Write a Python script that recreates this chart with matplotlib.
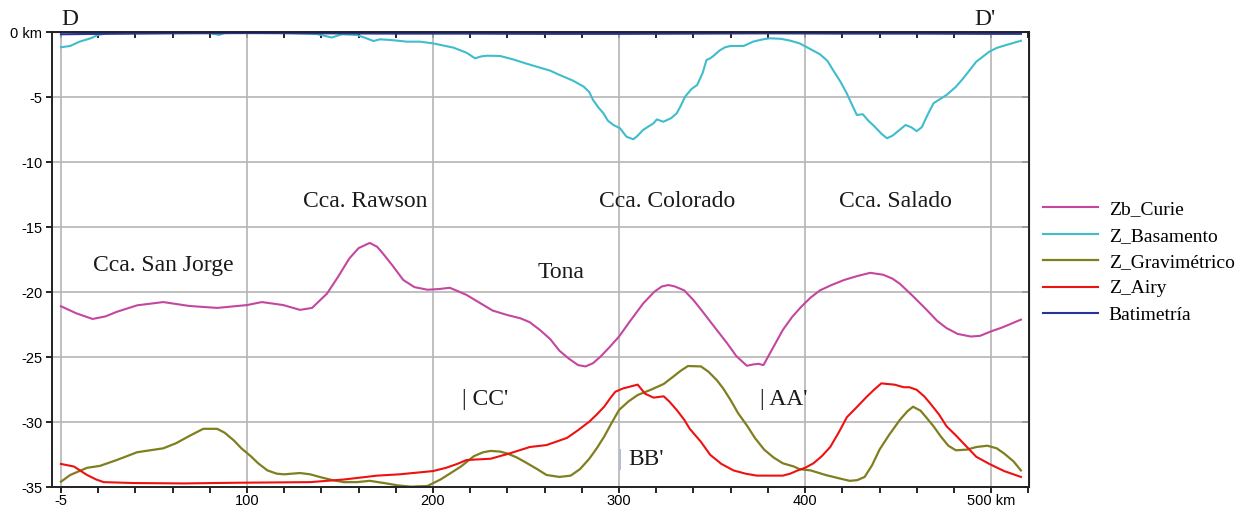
import matplotlib
matplotlib.use("Agg")
import matplotlib.pyplot as plt
from matplotlib.ticker import MultipleLocator, FixedLocator

# distance along profile (km) and depth (km) for each model
curie_km = [0, 8, 17, 24, 30, 41, 55, 69, 84, 100, 108, 119.5, 128.5, 135, 143, 149,
            155, 160, 166, 170, 173, 178, 184, 190, 197, 203, 209, 214, 218, 225, 232,
            240, 247, 252, 257.5, 263, 268, 273, 278, 282, 286, 290, 295, 300, 306, 313,
            319, 323, 326.5, 330, 335, 340, 345, 352, 358, 363, 368.7, 372, 375, 377.6,
            383, 388, 393, 398, 403, 408, 414, 421, 428, 435, 442, 447, 451, 458, 465,
            471, 476, 482, 489, 494, 500, 506, 511, 516]
curie_z = [-21.07, -21.6, -22.05, -21.85, -21.5, -21.0, -20.75, -21.05, -21.2, -20.98,
           -20.75, -20.98, -21.35, -21.2, -20.1, -18.8, -17.4, -16.6, -16.2, -16.5, -17.0,
           -17.9, -19.05, -19.6, -19.8, -19.75, -19.65, -19.95, -20.2, -20.8, -21.4,
           -21.75, -22.0, -22.3, -22.9, -23.6, -24.5, -25.1, -25.6, -25.7, -25.45, -24.95,
           -24.2, -23.4, -22.2, -20.85, -19.95, -19.55, -19.44, -19.55, -19.85, -20.6,
           -21.5, -22.8, -23.9, -24.9, -25.65, -25.55, -25.5, -25.6, -24.2, -22.9, -21.9,
           -21.1, -20.4, -19.85, -19.45, -19.05, -18.75, -18.5, -18.65, -18.95, -19.35,
           -20.3, -21.3, -22.2, -22.75, -23.2, -23.4, -23.35, -23.0, -22.7, -22.4, -22.1]

basam_km = [0, 5, 10, 16, 20, 25, 40, 60, 80, 85, 88, 120, 137.5, 141, 145.6, 151, 159,
            164, 168, 171.5, 178, 186, 193, 200, 211, 218, 222.6, 226, 229, 236, 243, 250,
            257.5, 263, 268, 275, 281, 284, 286, 289, 291.6, 294, 297, 300.5, 304, 307.7,
            310, 313, 318.5, 320.3, 323.8, 328, 331, 333, 335.5, 339, 342, 345, 347, 349,
            350.7, 354, 357, 360, 367, 372, 377, 381, 387, 392, 397, 401, 408, 412, 415,
            419, 422.4, 425, 427.8, 431, 434, 437, 441, 444, 447, 449, 454, 457, 460,
            462.7, 466, 469, 476, 481, 485, 492, 499, 503, 508, 516]
basam_z = [-1.15, -1.05, -0.72, -0.46, -0.2, -0.08, -0.05, -0.05, -0.05, -0.2, -0.05,
           -0.05, -0.13, -0.25, -0.4, -0.15, -0.2, -0.45, -0.67, -0.54, -0.6, -0.72, -0.72,
           -0.85, -1.18, -1.57, -2.0, -1.85, -1.8, -1.82, -2.08, -2.4, -2.72, -2.95, -3.28,
           -3.7, -4.18, -4.6, -5.2, -5.8, -6.23, -6.8, -7.13, -7.38, -8.03, -8.23, -7.95,
           -7.5, -7.0, -6.7, -6.88, -6.6, -6.23, -5.7, -4.95, -4.35, -4.05, -3.1, -2.13,
           -2.0, -1.82, -1.4, -1.15, -1.05, -1.05, -0.72, -0.55, -0.46, -0.5, -0.64, -0.85,
           -1.15, -1.69, -2.2, -2.9, -3.8, -4.7, -5.5, -6.36, -6.3, -6.8, -7.2, -7.8,
           -8.15, -7.95, -7.72, -7.13, -7.3, -7.6, -7.3, -6.3, -5.46, -4.82, -4.2, -3.54,
           -2.26, -1.49, -1.2, -0.98, -0.65]

grav_km = [0, 5, 14, 21, 30, 41, 55, 62, 69, 76.5, 84, 88, 93, 97, 102, 106, 111, 116,
           120, 128.5, 134, 139, 146, 152, 159, 166, 175, 181, 188, 197, 204, 209, 215,
           222, 227, 231, 236, 240, 245, 250, 256, 261, 268, 274, 279, 284, 288, 292, 296,
           300, 305, 310, 317, 324, 329, 333, 337, 344, 348, 352.5, 356, 360, 364, 369,
           373, 378, 383, 388, 394, 397, 403, 411, 418, 424, 428, 432, 436, 440, 445, 451,
           455, 458, 462, 465, 469, 473, 477, 481, 487, 492, 498, 503, 507, 512, 516]
grav_z = [-34.57, -34.05, -33.5, -33.35, -32.9, -32.3, -32.0, -31.6, -31.05, -30.5, -30.5,
          -30.8, -31.4, -32.0, -32.6, -33.15, -33.7, -33.95, -34.0, -33.9, -34.0, -34.2,
          -34.45, -34.6, -34.6, -34.5, -34.7, -34.85, -34.95, -34.9, -34.4, -33.95, -33.4,
          -32.6, -32.3, -32.2, -32.25, -32.4, -32.7, -33.1, -33.6, -34.05, -34.2, -34.1,
          -33.6, -32.8, -32.0, -31.1, -30.05, -29.05, -28.4, -27.9, -27.5, -27.05, -26.5,
          -26.05, -25.67, -25.7, -26.1, -26.75, -27.4, -28.3, -29.3, -30.3, -31.2, -32.1,
          -32.7, -33.15, -33.4, -33.6, -33.7, -34.05, -34.3, -34.5, -34.45, -34.2, -33.3,
          -32.1, -31.0, -29.8, -29.15, -28.8, -29.1, -29.6, -30.3, -31.1, -31.8, -32.15,
          -32.1, -31.9, -31.8, -32.0, -32.4, -33.0, -33.7]

airy_km = [0, 7, 14, 19, 23, 39, 66, 93, 134, 152, 170, 182, 200, 207, 213, 218, 231,
           241, 252, 261, 268, 272, 278, 284, 288, 292, 296, 298, 302, 310, 314, 318.5,
           324, 327, 331, 335, 338, 344, 349, 355, 361.5, 368, 374, 382, 388, 392, 396,
           400, 404.5, 409, 413.5, 418, 422.5, 428, 433, 437, 441, 444, 448, 453, 456,
           460, 464, 467, 472, 476, 481, 485, 492, 499, 507, 512, 516]
airy_z = [-33.2, -33.4, -34.05, -34.4, -34.6, -34.67, -34.7, -34.65, -34.6, -34.4, -34.1,
          -34.0, -33.75, -33.5, -33.2, -32.9, -32.8, -32.4, -31.9, -31.75, -31.4, -31.2,
          -30.6, -29.95, -29.4, -28.8, -28.0, -27.65, -27.4, -27.1, -27.8, -28.1, -28.0,
          -28.4, -29.05, -29.8, -30.5, -31.5, -32.5, -33.2, -33.7, -33.95, -34.1, -34.1,
          -34.1, -33.95, -33.7, -33.5, -33.15, -32.6, -31.9, -30.8, -29.6, -28.8, -28.05,
          -27.5, -27.0, -27.05, -27.1, -27.3, -27.3, -27.5, -28.0, -28.5, -29.4, -30.3,
          -31.0, -31.6, -32.65, -33.2, -33.75, -34.0, -34.2]

bat_km = [0, 20, 60, 100, 140, 180, 220, 260, 300, 340, 380, 420, 460, 500, 516]
bat_z = [-0.15, -0.12, -0.08, -0.06, -0.08, -0.1, -0.1, -0.12, -0.12, -0.1, -0.08, -0.1,
         -0.1, -0.12, -0.12]

xtick_pos = [0, 100, 200, 300, 400, 500]
xtick_labels = ["-5", "100", "200", "300", "400", "500 km"]
ytick_pos = [0, -5, -10, -15, -20, -25, -30, -35]
ytick_labels = ["0 km", "-5", "-10", "-15", "-20", "-25", "-30", "-35"]

SERIF = "Liberation Serif"
SANS = "Liberation Sans"

fig = plt.figure(figsize=(12.41, 5.08), dpi=100)
ax = fig.add_axes([0.0419, 0.0407, 0.7875, 0.8957])

ax.plot(curie_km, curie_z, color="#c4479f", lw=1.5, label="Zb_Curie")
ax.plot(basam_km, basam_z, color="#3fbdcc", lw=1.5, label="Z_Basamento")
ax.plot(grav_km, grav_z, color="#7f7f1f", lw=1.6, label="Z_Gravimétrico")
ax.plot(airy_km, airy_z, color="#ee1111", lw=1.5, label="Z_Airy")
ax.plot(bat_km, bat_z, color="#26339c", lw=1.5, label="Batimetría")

ax.set_xlim(-4.8, 520.5)
ax.set_ylim(-35, 0)
ax.set_xticks(xtick_pos)
ax.set_xticklabels(xtick_labels, fontfamily=SANS, fontsize=10.5)
ax.set_yticks(ytick_pos)
ax.set_yticklabels(ytick_labels, fontfamily=SANS, fontsize=10.5)
ax.xaxis.set_minor_locator(MultipleLocator(20))
ax.tick_params(axis="both", which="major", direction="out", length=4, width=1.2,
               top=False, right=False, pad=3)
ax.tick_params(axis="x", which="major", pad=1)
ax.tick_params(axis="x", which="minor", direction="out", length=4, width=1.2, top=False)
ax.grid(True, which="major", color="#b5b5b5", lw=1.2)
ax.set_axisbelow(True)
for sp in ax.spines.values():
    sp.set_linewidth(1.4)
    sp.set_color("#222222")

top = ax.secondary_xaxis("top")
top.set_xticks(xtick_pos)
top.xaxis.set_minor_locator(FixedLocator(list(range(20, 521, 20))))
top.tick_params(which="both", direction="in", length=4, width=1.2, labeltop=False)
right = ax.secondary_yaxis("right")
right.set_yticks(ytick_pos)
right.tick_params(direction="in", length=5, width=1.2, labelright=False)

tkw = dict(fontfamily=SERIF, fontsize=17, color="#1a1a1a", va="baseline")
ax.text(0, 0.55, "D", ha="left", clip_on=False, **tkw)
ax.text(491, 0.55, "D'", ha="left", clip_on=False, **tkw)
ax.text(55, -18.35, "Cca. San Jorge", ha="center", **tkw)
ax.text(163.5, -13.45, "Cca. Rawson", ha="center", **tkw)
ax.text(325.8, -13.45, "Cca. Colorado", ha="center", **tkw)
ax.text(448.6, -13.45, "Cca. Salado", ha="center", **tkw)
ax.text(269, -18.9, "Tona", ha="center", **tkw)
ax.text(215.5, -28.7, "| CC'", ha="left", **tkw)
ax.text(376, -28.7, "| AA'", ha="left", **tkw)
ax.text(305, -33.3, "BB'", ha="left", **tkw)
ax.text(299.2, -33.3, "|", ha="left", fontfamily=SERIF, fontsize=17, color="#9fb6e0",
        va="baseline")

fig.legend(loc="upper left", bbox_to_anchor=(0.8405, 0.605), frameon=False,
           prop={"family": SERIF, "size": 14}, handlelength=2.8, handletextpad=0.57,
           labelspacing=0.45, borderpad=0, borderaxespad=0)

fig.savefig("out.png", dpi=100)
